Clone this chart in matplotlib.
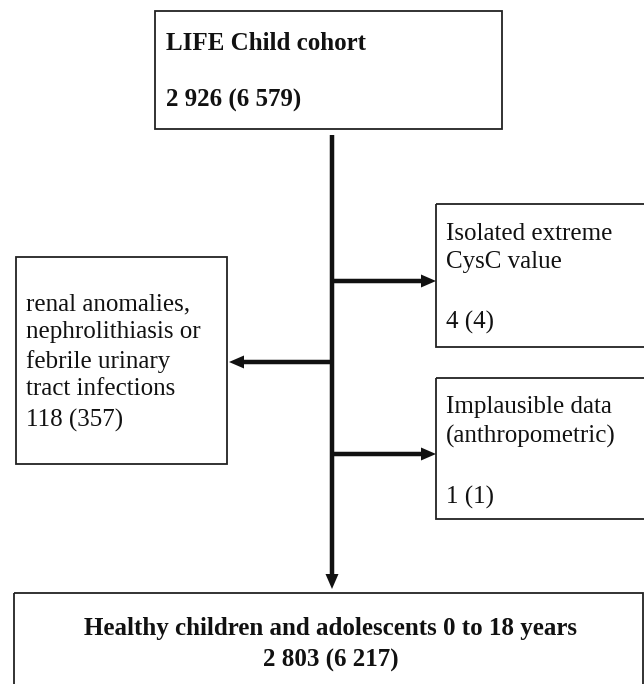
import matplotlib.pyplot as plt
from matplotlib.patches import Rectangle, FancyArrow

# flowchart content
cohort_label = 'LIFE Child cohort'
cohort_count = '2 926 (6 579)'
excl_labels = ['Isolated extreme\nCysC value',
               'renal anomalies,\nnephrolithiasis or\nfebrile urinary\ntract infections',
               'Implausible data\n(anthropometric)']
excl_counts = ['4 (4)', '118 (357)', '1 (1)']
final_label = 'Healthy children and adolescents 0 to 18 years'
final_count = '2 803 (6 217)'

plt.rcParams['font.family'] = ['Liberation Serif', 'DejaVu Serif']

fig = plt.figure(figsize=(6.44, 6.84), dpi=100)
ax = fig.add_axes([0, 0, 1, 1])
ax.set_xlim(0, 644)
ax.set_ylim(684, 0)
ax.axis('off')

box_kw = dict(fill=False, edgecolor='#222222', linewidth=1.3)
fs = 18
tc = '#111111'

# top box
ax.add_patch(Rectangle((155, 11), 347, 118, **box_kw))
ax.text(166, 43, cohort_label, fontsize=fs, fontweight='bold', va='center', ha='left', color=tc)
ax.text(166, 100, cohort_count, fontsize=fs, fontweight='bold', va='center', ha='left', color=tc)

# exclusion boxes
ax.add_patch(Rectangle((436, 204), 220, 143, **box_kw))
ax.text(446, 248, excl_labels[0], fontsize=fs, va='center', ha='left', linespacing=1.38, color=tc)
ax.text(446, 322, excl_counts[0], fontsize=fs, va='center', ha='left', color=tc)

ax.add_patch(Rectangle((16, 257), 211, 207, **box_kw))
ax.text(26, 347, excl_labels[1], fontsize=fs, va='center', ha='left', linespacing=1.34, color=tc)
ax.text(26, 420, excl_counts[1], fontsize=fs, va='center', ha='left', color=tc)

ax.add_patch(Rectangle((436, 378), 220, 141, **box_kw))
ax.text(446, 422, excl_labels[2], fontsize=fs, va='center', ha='left', linespacing=1.38, color=tc)
ax.text(446, 497, excl_counts[2], fontsize=fs, va='center', ha='left', color=tc)

# final box
ax.add_patch(Rectangle((14, 593), 629, 120, **box_kw))
ax.text(331, 628, final_label, fontsize=fs, fontweight='bold', va='center', ha='center', color=tc)
ax.text(331, 660, final_count, fontsize=fs, fontweight='bold', va='center', ha='center', color=tc)


def arrow(x0, y0, x1, y1):
    ax.add_patch(FancyArrow(x0, y0, x1 - x0, y1 - y0, width=4.5, head_width=13,
                            head_length=15, length_includes_head=True,
                            color=tc, linewidth=0))


# arrows
arrow(332, 135, 332, 589)
arrow(332, 281, 436, 281)
arrow(332, 362, 229, 362)
arrow(332, 454, 436, 454)

fig.savefig('out.png', dpi=100, facecolor='white')
